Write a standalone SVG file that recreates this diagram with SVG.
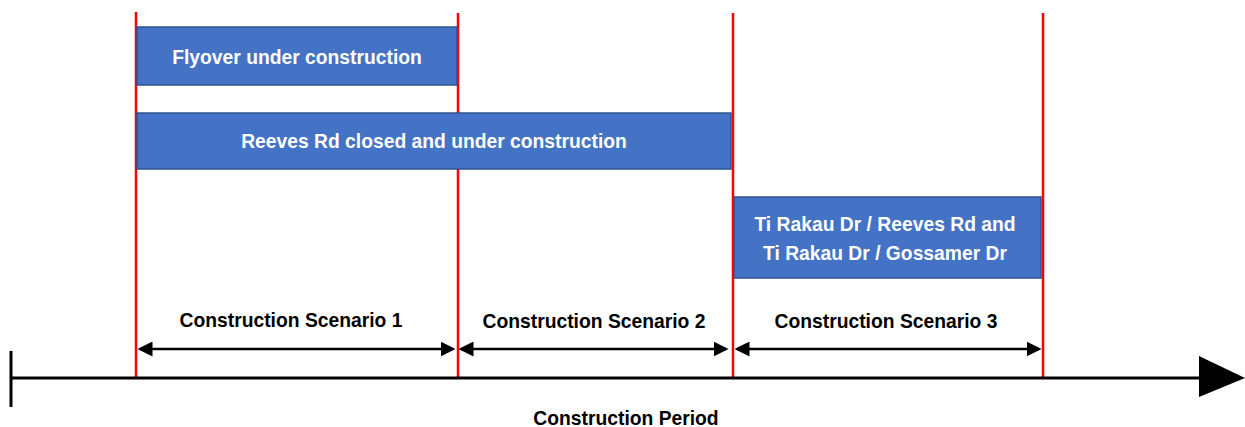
<svg xmlns="http://www.w3.org/2000/svg" width="1245" height="427" viewBox="0 0 1245 427">
  <style>
    .bar { fill: #4472C4; stroke: #2F528F; stroke-width: 1.5; }
    .bar-text { font-family: "Liberation Sans", Arial, sans-serif; font-weight: bold; font-size: 19.3px; fill: #ffffff; text-anchor: middle; }
    .label { font-family: "Liberation Sans", Arial, sans-serif; font-weight: bold; font-size: 19.3px; fill: #000000; text-anchor: middle; }
    .phase { stroke: #FF0000; stroke-width: 2.5; }
    .span { stroke: #000000; stroke-width: 2.5; marker-start: url(#tip-start); marker-end: url(#tip-end); }
  </style>
  <defs>
    <marker id="tip-end" markerWidth="6" markerHeight="6" refX="5" refY="3" orient="auto" markerUnits="strokeWidth">
      <path d="M0,0 L6,3 L0,6 Z" fill="#000"/>
    </marker>
    <marker id="tip-start" markerWidth="6" markerHeight="6" refX="1" refY="3" orient="auto" markerUnits="strokeWidth">
      <path d="M6,0 L0,3 L6,6 Z" fill="#000"/>
    </marker>
  </defs>

  <rect width="1245" height="427" fill="#ffffff"/>

  <!-- phase boundaries -->
  <g id="boundaries">
    <line class="phase" x1="136" y1="12" x2="136" y2="378"/>
    <line class="phase" x1="458" y1="13" x2="458" y2="378"/>
    <line class="phase" x1="733" y1="13" x2="733" y2="378"/>
    <line class="phase" x1="1043" y1="13" x2="1043" y2="378"/>
  </g>

  <!-- activity bars -->
  <g id="flyover">
    <rect class="bar" x="137" y="27" width="320" height="58"/>
    <text class="bar-text" x="297" y="64">Flyover under construction</text>
  </g>
  <g id="reeves-rd">
    <rect class="bar" x="137" y="113" width="594" height="56"/>
    <text class="bar-text" x="434" y="148">Reeves Rd closed and under construction</text>
  </g>
  <g id="ti-rakau">
    <rect class="bar" x="734" y="197" width="307" height="81"/>
    <text class="bar-text" x="885" y="231">Ti Rakau Dr / Reeves Rd and</text>
    <text class="bar-text" x="885" y="260">Ti Rakau Dr / Gossamer Dr</text>
  </g>

  <!-- scenario spans -->
  <g id="connectors">
    <line class="span" x1="140" y1="349" x2="453" y2="349"/>
    <line class="span" x1="461" y1="349" x2="726" y2="349"/>
    <line class="span" x1="737" y1="349" x2="1039" y2="349"/>
  </g>
  <g id="scenario-1"><text class="label" x="291" y="327">Construction Scenario 1</text></g>
  <g id="scenario-2"><text class="label" x="594" y="328">Construction Scenario 2</text></g>
  <g id="scenario-3"><text class="label" x="886" y="328">Construction Scenario 3</text></g>

  <!-- time axis -->
  <g id="axis">
    <line x1="11" y1="351" x2="11" y2="407" stroke="#000" stroke-width="3"/>
    <line x1="11" y1="378" x2="1202" y2="378" stroke="#000" stroke-width="3"/>
    <polygon points="1199,356 1245,378 1199,397" fill="#000"/>
    <text class="label" x="626" y="425">Construction Period</text>
  </g>
</svg>
